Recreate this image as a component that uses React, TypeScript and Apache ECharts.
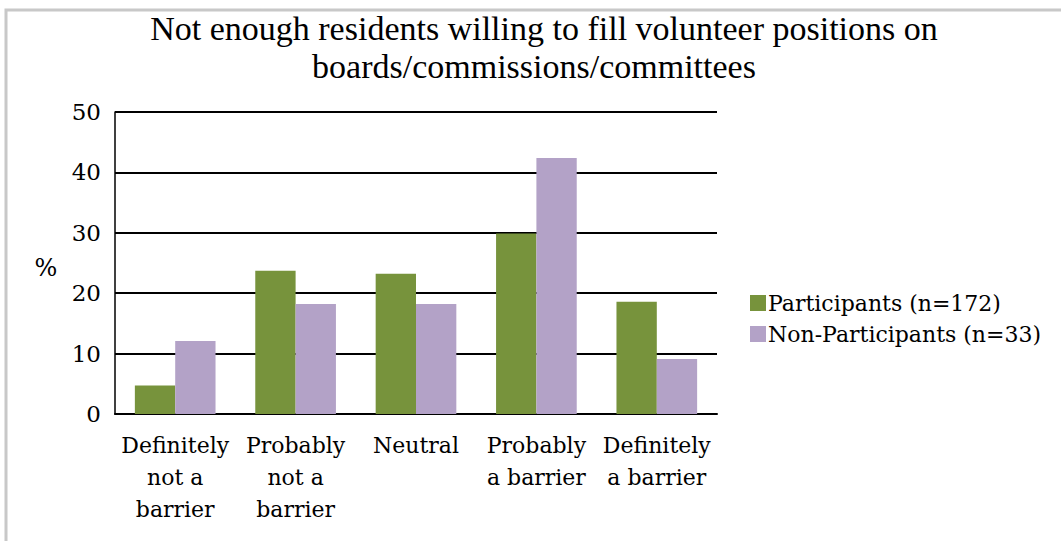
import React, { useEffect, useRef } from "react";
import * as echarts from "echarts";

const categories = [
  "Definitely\nnot a\nbarrier",
  "Probably\nnot a\nbarrier",
  "Neutral",
  "Probably\na barrier",
  "Definitely\na barrier",
];
const participants = [4.7, 23.7, 23.2, 29.9, 18.6];
const nonParticipants = [12.1, 18.2, 18.2, 42.4, 9.1];
const seriesNames = ["Participants (n=172)", "Non-Participants (n=33)"];
const titleLines = [
  "Not enough residents willing to fill volunteer positions on",
  "boards/commissions/committees",
];

export default function App() {
  const ref = useRef<HTMLDivElement>(null);
  useEffect(() => {
    if (!ref.current) return;
    const chart = echarts.init(ref.current, null, { renderer: "svg" });
    const serif = "DejaVu Serif";
    const titleStyle = {
      fontFamily: "Liberation Serif",
      fontWeight: "normal",
      fontSize: 34,
      lineHeight: 38,
      color: "#000",
    };
    chart.setOption({
      animation: false,
      backgroundColor: "#ffffff",
      title: [
        { text: titleLines[0], left: 539, top: 4, textAlign: "center", textStyle: titleStyle },
        { text: titleLines[1], left: 529, top: 42, textAlign: "center", textStyle: titleStyle },
      ],
      graphic: [
        {
          type: "rect",
          shape: { x: 6, y: 10, width: 1200, height: 700 },
          style: { fill: "none", stroke: "#c8c8c8", lineWidth: 3 },
          silent: true,
        },
        {
          type: "text",
          x: 46,
          y: 268,
          style: {
            text: "%",
            fontFamily: serif,
            fontSize: 24,
            fill: "#000",
            textAlign: "center",
            textVerticalAlign: "middle",
          },
        },
      ],
      legend: {
        orient: "vertical",
        left: 745,
        top: 287,
        itemWidth: 16,
        itemHeight: 16,
        itemGap: 9,
        icon: "rect",
        textStyle: { fontFamily: serif, fontSize: 22, color: "#000", padding: [0, 0, 0, -3] },
        data: seriesNames,
      },
      grid: { left: 115, right: 344, top: 112, bottom: 127, containLabel: false },
      xAxis: {
        type: "category",
        data: categories,
        axisLine: { lineStyle: { color: "#000", width: 2 } },
        axisTick: { show: false },
        axisLabel: {
          fontFamily: serif,
          fontSize: 22,
          lineHeight: 32,
          color: "#000",
          margin: 15,
          interval: 0,
        },
      },
      yAxis: {
        type: "value",
        min: 0,
        max: 50,
        interval: 10,
        axisLine: { show: true, lineStyle: { color: "#000", width: 1.5 } },
        axisTick: { show: true, inside: true, length: 4, lineStyle: { color: "#000" } },
        splitLine: { lineStyle: { color: "#000", width: 2 } },
        axisLabel: { fontFamily: serif, fontSize: 23, color: "#000", margin: 14 },
      },
      series: [
        {
          name: seriesNames[0],
          type: "bar",
          data: participants,
          itemStyle: { color: "#77933c" },
          barGap: "0%",
          barCategoryGap: "33%",
        },
        {
          name: seriesNames[1],
          type: "bar",
          data: nonParticipants,
          itemStyle: { color: "#b3a2c7" },
          barGap: "0%",
          barCategoryGap: "33%",
        },
      ],
    });
    return () => chart.dispose();
  }, []);
  return (
    <div
      ref={ref}
      style={{ position: "fixed", left: 0, top: 0, width: 1061, height: 541 }}
    />
  );
}
